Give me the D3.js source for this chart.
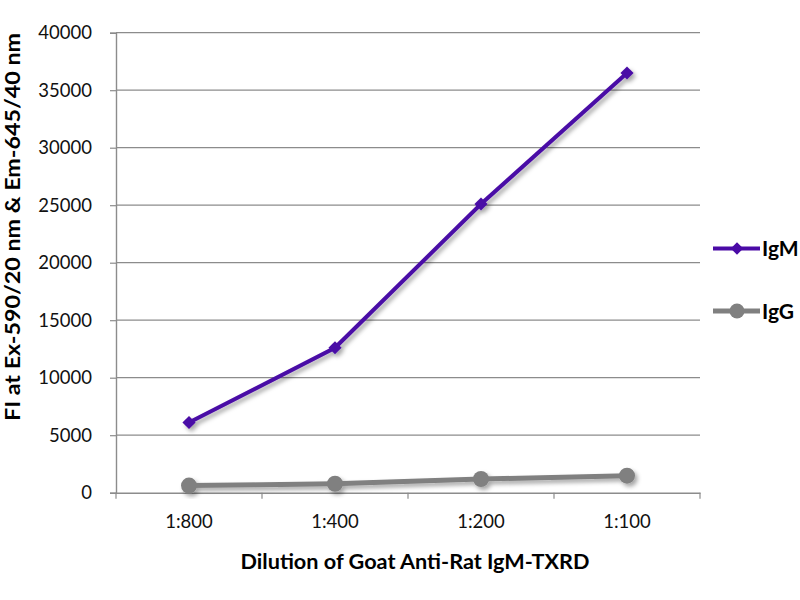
<!DOCTYPE html>
<html><head><meta charset="utf-8">
<script src="https://cdn.jsdelivr.net/npm/d3@7/dist/d3.min.js"></script>
<style>body{margin:0;background:#fff;} text{font-family:Lato, "Open Sans", sans-serif;}</style>
</head><body>
<svg id="c" width="800" height="600"></svg>
<script>
const categories = ["1:800", "1:400", "1:200", "1:100"];
const igmValues = [6100, 12600, 25100, 36500];
const iggValues = [620, 780, 1190, 1480];
const yTicks = [0, 5000, 10000, 15000, 20000, 25000, 30000, 35000, 40000];
const seriesNames = ["IgM", "IgG"];
const seriesColors = ["#4a0aa6", "#808080"];

const svg = d3.select("#c");
const L = 116, R = 700, T = 32.7, B = 492.7;
const x = d3.scaleBand().domain(categories).range([L, R]).padding(0);
const y = d3.scaleLinear().domain([0, 40000]).range([B, T]);

const defs = svg.append("defs");
const f = defs.append("filter").attr("id", "sh").attr("x", "-20%").attr("y", "-20%").attr("width", "140%").attr("height", "140%");
f.append("feDropShadow").attr("dx", 2.5).attr("dy", 3).attr("stdDeviation", 2).attr("flood-color", "#000").attr("flood-opacity", 0.35);

// gridlines
svg.append("g").selectAll("line").data(yTicks.filter(d => d > 0)).join("line")
  .attr("x1", L).attr("x2", R).attr("y1", d => y(d)).attr("y2", d => y(d))
  .attr("stroke", "#8c8c8c").attr("stroke-width", 1.2);

// y axis
const ya = svg.append("g").attr("transform", `translate(${L},0)`)
  .call(d3.axisLeft(y).tickValues(yTicks).tickSize(6).tickPadding(18).tickFormat(d3.format("d")));
ya.select(".domain").attr("stroke", "#8c8c8c").attr("stroke-width", 1.4);
ya.selectAll(".tick line").attr("stroke", "#8c8c8c").attr("stroke-width", 1.2);
ya.selectAll(".tick text").attr("font-size", 18.5).attr("fill", "#111").style("font-family", "Lato, sans-serif");

// x axis
const xa = svg.append("g").attr("transform", `translate(0,${B})`)
  .call(d3.axisBottom(x).tickSize(0).tickPadding(22));
xa.select(".domain").attr("stroke", "#8c8c8c").attr("stroke-width", 1.4);
xa.selectAll(".tick text").attr("font-size", 18.5).attr("fill", "#111").style("font-family", "Lato, sans-serif");
const edges = categories.map(c => x(c)).concat([R]);
xa.append("g").selectAll("line").data(edges).join("line")
  .attr("x1", d => d).attr("x2", d => d).attr("y1", 0).attr("y2", 6)
  .attr("stroke", "#8c8c8c").attr("stroke-width", 1.2);

const cx = c => x(c) + x.bandwidth() / 2;

// IgG series
const gG = svg.append("g").attr("filter", "url(#sh)");
gG.append("path").datum(iggValues)
  .attr("d", d3.line().x((d, i) => cx(categories[i])).y(d => y(d)))
  .attr("fill", "none").attr("stroke", seriesColors[1]).attr("stroke-width", 5);
gG.selectAll("circle").data(iggValues).join("circle")
  .attr("cx", (d, i) => cx(categories[i])).attr("cy", d => y(d)).attr("r", 8)
  .attr("fill", seriesColors[1]);

// IgM series
const gM = svg.append("g").attr("filter", "url(#sh)");
gM.append("path").datum(igmValues)
  .attr("d", d3.line().x((d, i) => cx(categories[i])).y(d => y(d)))
  .attr("fill", "none").attr("stroke", seriesColors[0]).attr("stroke-width", 4);
const diamond = d3.symbol().type(d3.symbolDiamond2).size(110);
gM.selectAll("path.m").data(igmValues).join("path").attr("class", "m")
  .attr("transform", (d, i) => `translate(${cx(categories[i])},${y(d)})`)
  .attr("d", diamond).attr("fill", seriesColors[0]);

// legend
const leg = svg.append("g");
const legY = [248.5, 311];
seriesNames.forEach((n, i) => {
  const g = leg.append("g").attr("transform", `translate(0,${legY[i]})`);
  g.append("line").attr("x1", 713).attr("x2", 760).attr("y1", 0).attr("y2", 0)
    .attr("stroke", seriesColors[i]).attr("stroke-width", i === 0 ? 4 : 5);
  if (i === 0) g.append("path").attr("transform", "translate(737,0)").attr("d", d3.symbol().type(d3.symbolDiamond2).size(100)).attr("fill", seriesColors[0]);
  else g.append("circle").attr("cx", 737).attr("cy", 0).attr("r", 7.5).attr("fill", seriesColors[1]);
  g.append("text").attr("x", 762).attr("y", 7.5).attr("font-size", 21).attr("font-weight", "bold").text(n);
});

// axis titles
svg.append("text").attr("x", 415).attr("y", 569).attr("text-anchor", "middle")
  .attr("font-size", 20.5).attr("font-weight", "bold")
  .attr("textLength", 349).attr("lengthAdjust", "spacingAndGlyphs")
  .text("Dilution of Goat Anti-Rat IgM-TXRD");
svg.append("text").attr("transform", "translate(20,227) rotate(-90)").attr("text-anchor", "middle")
  .attr("font-size", 20.5).attr("font-weight", "bold")
  .attr("textLength", 388).attr("lengthAdjust", "spacingAndGlyphs")
  .text("FI at Ex-590/20 nm & Em-645/40 nm");
</script>
</body></html>
